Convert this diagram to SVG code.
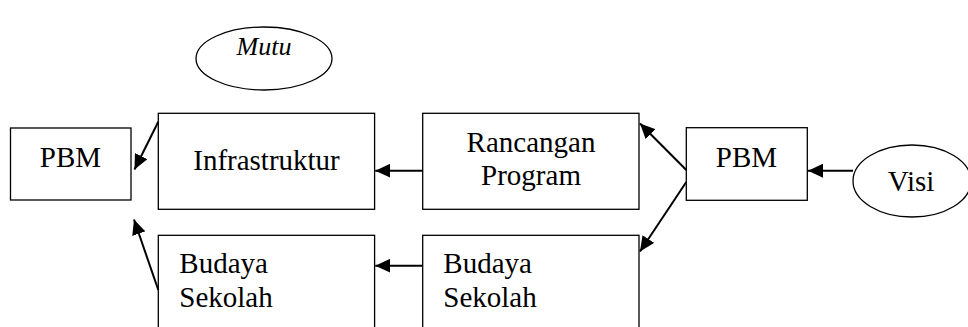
<svg xmlns="http://www.w3.org/2000/svg" width="968" height="327" viewBox="0 0 968 327">
<style>
.box{fill:#fff;stroke:#000;stroke-width:1.3}
.t{font-family:"Liberation Serif","Times New Roman",serif;font-size:29px;fill:#000}
.c{stroke:#000;stroke-width:2;fill:none}
</style>
<defs>
<marker id="ah" markerUnits="userSpaceOnUse" markerWidth="16" markerHeight="14" refX="15" refY="7" orient="auto">
<path d="M0,0 L15,7 L0,14 Z" fill="#000"/>
</marker>
</defs>
<rect width="968" height="327" fill="#fff"/>
<g id="mutu">
<ellipse class="box" cx="264" cy="58.5" rx="68" ry="31.5"/>
<text class="t" x="264" y="55" text-anchor="middle" font-style="italic" style="font-size:26px">Mutu</text>
</g>
<g id="pbm-left">
<rect class="box" x="10.5" y="128" width="120.5" height="72"/>
<text class="t" x="70.5" y="167" text-anchor="middle">PBM</text>
</g>
<g id="infrastruktur">
<rect class="box" x="158.3" y="113.3" width="216.3" height="96"/>
<text class="t" x="266.5" y="170" text-anchor="middle">Infrastruktur</text>
</g>
<g id="rancangan">
<rect class="box" x="422.7" y="113.3" width="216.3" height="96"/>
<text class="t" x="531" y="152" text-anchor="middle">Rancangan</text>
<text class="t" x="531" y="185" text-anchor="middle">Program</text>
</g>
<g id="budaya-left">
<rect class="box" x="158.3" y="235.3" width="216.3" height="110"/>
<text class="t" x="179.3" y="273">Budaya</text>
<text class="t" x="179.3" y="306.7">Sekolah</text>
</g>
<g id="budaya-right">
<rect class="box" x="422.7" y="235.3" width="216.3" height="110"/>
<text class="t" x="443.3" y="273">Budaya</text>
<text class="t" x="443.3" y="306.7">Sekolah</text>
</g>
<g id="pbm-right">
<rect class="box" x="686.3" y="127.7" width="121" height="72.6"/>
<text class="t" x="746.5" y="166.7" text-anchor="middle">PBM</text>
</g>
<g id="visi">
<ellipse class="box" cx="912" cy="181" rx="59" ry="36"/>
<text class="t" x="911" y="190.7" text-anchor="middle">Visi</text>
</g>
<g id="connectors">
<line class="c" x1="853" y1="170.7" x2="808" y2="170.7" marker-end="url(#ah)"/>
<line class="c" x1="686.3" y1="170" x2="640" y2="123.5" marker-end="url(#ah)"/>
<line class="c" x1="686.3" y1="182" x2="640" y2="251.5" marker-end="url(#ah)"/>
<line class="c" x1="422.7" y1="170.7" x2="375.3" y2="170.7" marker-end="url(#ah)"/>
<line class="c" x1="422.7" y1="265.7" x2="375.3" y2="265.7" marker-end="url(#ah)"/>
<line class="c" x1="158.3" y1="121.7" x2="134.5" y2="169.5" marker-end="url(#ah)"/>
<line class="c" x1="158.3" y1="290" x2="134" y2="219.5" marker-end="url(#ah)"/>
</g>
</svg>
